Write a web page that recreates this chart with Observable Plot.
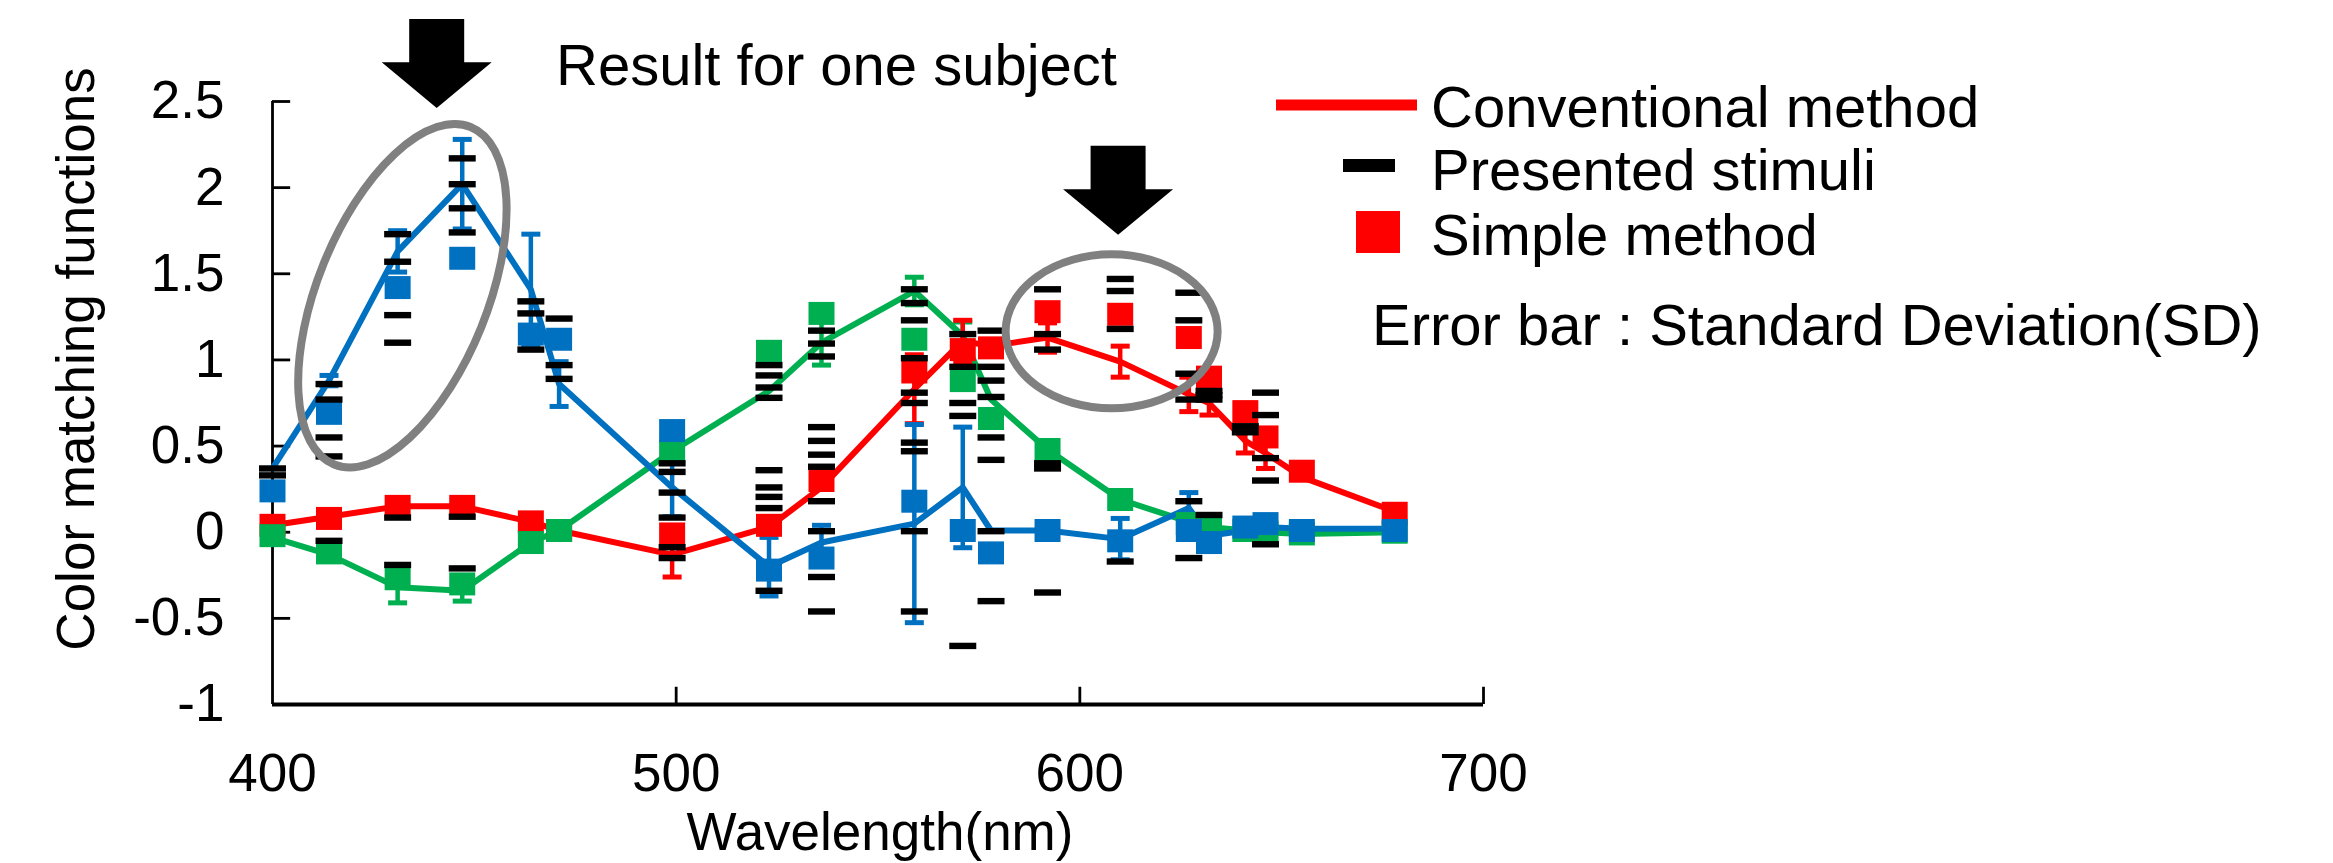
<!DOCTYPE html>
<html><head><meta charset="utf-8">
<script src="https://cdn.jsdelivr.net/npm/d3@7"></script>
<script src="https://cdn.jsdelivr.net/npm/@observablehq/plot@0.6"></script>
<style>html,body{margin:0;padding:0;background:#fff} svg{display:block}</style>
</head><body><div id="chart"></div>
<script>
// ---- data ----
const wavelengths = [400,414,431,447,464,471,499,523,536,559,571,578,592,610,627,632,641,646,655,678];
const xTicks = [400,500,600,700];
const yTicks = [-1,-0.5,0,0.5,1,1.5,2,2.5];

// Conventional method (line) and its standard deviation
const convRed     = [0.04,0.09,0.15,0.15,0.06,0.01,-0.13,0.03,0.26,0.83,1.11,1.08,1.13,0.99,0.80,0.75,0.53,0.46,0.32,0.12];
const convRedSD   = [0,0,0,0,0,0,0.13,0,0,0.20,0.12,0,0.085,0.09,0.10,0.07,0.07,0.09,0,0];
const convGreen   = [-0.03,-0.13,-0.32,-0.34,-0.06,0.01,0.47,0.82,1.10,1.40,1.14,0.77,0.48,0.19,0.06,0.03,0.01,0.00,-0.01,0.00];
const convGreenSD = [0,0,0.09,0.06,0,0,0,0,0.13,0.08,0.08,0,0,0,0,0,0,0,0,0];
const convBlue    = [0.37,0.88,1.63,2.02,1.41,0.86,0.26,-0.20,-0.06,0.05,0.26,0.01,0.01,-0.04,0.14,-0.02,0.01,0.03,0.02,0.02];
const convBlueSD  = [0,0.03,0.12,0.26,0.32,0.13,0.17,0.17,0.10,0.575,0.35,0,0,0.12,0.09,0,0,0,0,0];

// Simple method (squares)
const simpleRed   = [0.04,0.08,0.15,0.15,0.06,0.01,-0.01,0.04,0.30,0.93,1.06,1.07,1.28,1.265,1.13,0.90,0.70,0.553,0.354,0.11];
const simpleGreen = [-0.02,-0.12,-0.27,-0.30,-0.06,0.01,0.47,1.05,1.27,1.12,0.88,0.66,0.48,0.19,0.05,0.04,0.01,0.00,-0.01,0.00];
const simpleBlue  = [0.24,0.69,1.42,1.59,1.15,1.12,0.59,-0.22,-0.15,0.18,0.01,-0.12,0.01,-0.05,0.01,-0.06,0.03,0.05,0.01,0.01];

// Presented stimuli (black dashes), one list per wavelength
const presentedStimuli = [
  [0.37,0.33],
  [0.86,0.77,0.55,0.44,-0.05],
  [1.73,1.57,1.26,1.10,0.085,-0.19],
  [2.17,2.02,1.88,1.74,0.09,-0.21],
  [1.34,1.27,1.06],
  [1.24,0.97,0.89],
  [0.40,0.35,0.23,0.085,-0.087,-0.15],
  [0.97,0.91,0.84,0.78,0.36,0.26,0.205,0.14,-0.34],
  [1.17,1.095,1.02,0.61,0.53,0.45,0.38,0.18,0.006,-0.26,-0.46],
  [1.41,1.33,1.23,1.01,0.81,0.75,0.52,0.47,0.006,-0.46],
  [1.15,0.96,0.75,0.675,-0.66],
  [1.17,0.96,0.88,0.785,0.55,0.42,0.006,-0.40],
  [1.41,1.15,1.06,0.40,0.37,-0.35],
  [1.47,1.40,1.18,-0.17],
  [1.39,1.23,0.92,0.77,0.18,-0.15],
  [0.82,0.795,0.77,0.10],
  [0.615,0.58],
  [0.81,0.68,0.43,0.30,-0.07],
  [],
  []
];

const seriesColors = {red:"#FF0000", green:"#00B050", blue:"#0070C0"};
const convBy   = {red:convRed, green:convGreen, blue:convBlue};
const sdBy     = {red:convRedSD, green:convGreenSD, blue:convBlueSD};
const simpleBy = {red:simpleRed, green:simpleGreen, blue:simpleBlue};

// annotations (data-space anchors)
const ellipseNotes = [{wl:432.3, v:1.37, rx:182, ry:85, angle:-68}, {wl:608.0, v:1.163, rx:106, ry:77, angle:0}];
const arrowNotes = [{wl:440.8, v:2.46}, {wl:609.6, v:1.723}];

// ---- tables ----
const convRows = s => wavelengths.map((wl,i)=>({series:s, wl, v:convBy[s][i], sd:sdBy[s][i]}));
const errRows = s => convRows(s).filter(d=>d.sd>0);
const simpleRows = s => wavelengths.map((wl,i)=>({series:s, wl, v:simpleBy[s][i]}));
const stimRows = wavelengths.flatMap((wl,i)=>presentedStimuli[i].map(v=>({wl,v})));

const squareSym = {draw(ctx){ ctx.rect(-13,-11.5,26,23); }};
const dashSym = {draw(ctx){ ctx.rect(-13.5,-3.2,27,6.4); }};
const capSym = {draw(ctx){ ctx.moveTo(-9.5,0); ctx.lineTo(9.5,0); }};

const FONT = "'Liberation Sans', Arial, sans-serif";

function lineMarks(s){
  return [Plot.line(convRows(s), {x:"wl", y:"v", stroke:seriesColors[s], strokeWidth:6, strokeLinejoin:"round"})];
}
function errMarks(s){
  const c = seriesColors[s];
  const rows = errRows(s);
  const caps = rows.flatMap(d=>[{wl:d.wl, v:d.v-d.sd},{wl:d.wl, v:d.v+d.sd}]);
  return [
    Plot.ruleX(rows, {x:"wl", y1:d=>d.v-d.sd, y2:d=>d.v+d.sd, stroke:c, strokeWidth:4.5}),
    Plot.dot(caps, {x:"wl", y:"v", symbol:capSym, stroke:c, strokeWidth:5, fill:"none", r:5})
  ];
}
function squareMarks(s){
  return Plot.dot(simpleRows(s), {x:"wl", y:"v", symbol:squareSym, fill:seriesColors[s], stroke:"none", r:5});
}

function annotationMark(index, scales){
  const g = d3.create("svg:g");
  for (const e of ellipseNotes) {
    g.append("ellipse")
      .attr("transform", `translate(${scales.x(e.wl)},${scales.y(e.v)}) rotate(${e.angle})`)
      .attr("rx", e.rx).attr("ry", e.ry)
      .attr("fill","none").attr("stroke","#808080").attr("stroke-width",8);
  }
  for (const a of arrowNotes) {
    g.append("path")
      .attr("transform", `translate(${scales.x(a.wl)},${scales.y(a.v)})`)
      .attr("d","M0,0L-55,-45.6L-27.5,-45.6L-27.5,-89L27.5,-89L27.5,-45.6L55,-45.6Z")
      .attr("fill","#000");
  }
  return g.node();
}

function textLayer(){
  const g = d3.create("svg:g").attr("font-family", FONT).attr("fill","#000").attr("text-anchor","start");
  g.append("text").attr("x",556).attr("y",85).attr("font-size",58).text("Result for one subject");
  // legend
  g.append("line").attr("x1",1276).attr("x2",1417).attr("y1",105).attr("y2",105)
    .attr("stroke",seriesColors.red).attr("stroke-width",11);
  g.append("text").attr("x",1431).attr("y",127).attr("font-size",58).text("Conventional method");
  g.append("rect").attr("x",1343).attr("y",159).attr("width",52).attr("height",13).attr("fill","#000");
  g.append("text").attr("x",1431).attr("y",190).attr("font-size",58).text("Presented stimuli");
  g.append("rect").attr("x",1356).attr("y",211).attr("width",44).attr("height",42).attr("fill",seriesColors.red);
  g.append("text").attr("x",1431).attr("y",255).attr("font-size",58).text("Simple method");
  g.append("text").attr("x",1372).attr("y",345).attr("font-size",58).text("Error bar : Standard Deviation(SD)");
  // axis titles
  g.append("text").attr("x",880).attr("y",850).attr("font-size",53).attr("text-anchor","middle").text("Wavelength(nm)");
  g.append("text").attr("transform","translate(94,359) rotate(-90)").attr("font-size",53)
    .attr("text-anchor","middle").text("Color matching functions");
  return g.node();
}

const chart = Plot.plot({
  width: 2333, height: 863,
  marginLeft: 272, marginRight: 850, marginTop: 101, marginBottom: 159,
  style: {fontFamily: FONT, background: "#fff"},
  x: {domain: [400,700]},
  y: {domain: [-1,2.5]},
  marks: [
    // axes
    Plot.axisX({ticks: xTicks, tickSize: 0, tickPadding: 49, fontSize: 53, label: null}),
    Plot.axisY({ticks: yTicks, tickSize: 0, tickPadding: 48, fontSize: 53, label: null, tickFormat: d => String(d)}),
    Plot.ruleY(yTicks, {x1: 400, x2: 404.5, stroke: "#000", strokeWidth: 2.8}),
    Plot.ruleX(xTicks.slice(1), {y1: -1, y2: -0.9, stroke: "#000", strokeWidth: 2.8}),
    Plot.ruleX([400], {y1: -1, y2: 2.5, stroke: "#000", strokeWidth: 2.8}),
    Plot.ruleY([-1], {x1: 400, x2: 700, stroke: "#000", strokeWidth: 3.8}),
    // conventional method lines + SD
    ...lineMarks("green"), ...lineMarks("red"), ...lineMarks("blue"),
    ...errMarks("green"), ...errMarks("red"), ...errMarks("blue"),
    // simple method squares
    squareMarks("red"), squareMarks("green"), squareMarks("blue"),
    // presented stimuli
    Plot.dot(stimRows, {x: "wl", y: "v", symbol: dashSym, fill: "#000", stroke: "none", r: 5}),
    // annotations
    annotationMark,
    textLayer
  ]
});
document.getElementById("chart").appendChild(chart);
</script>
</body></html>
